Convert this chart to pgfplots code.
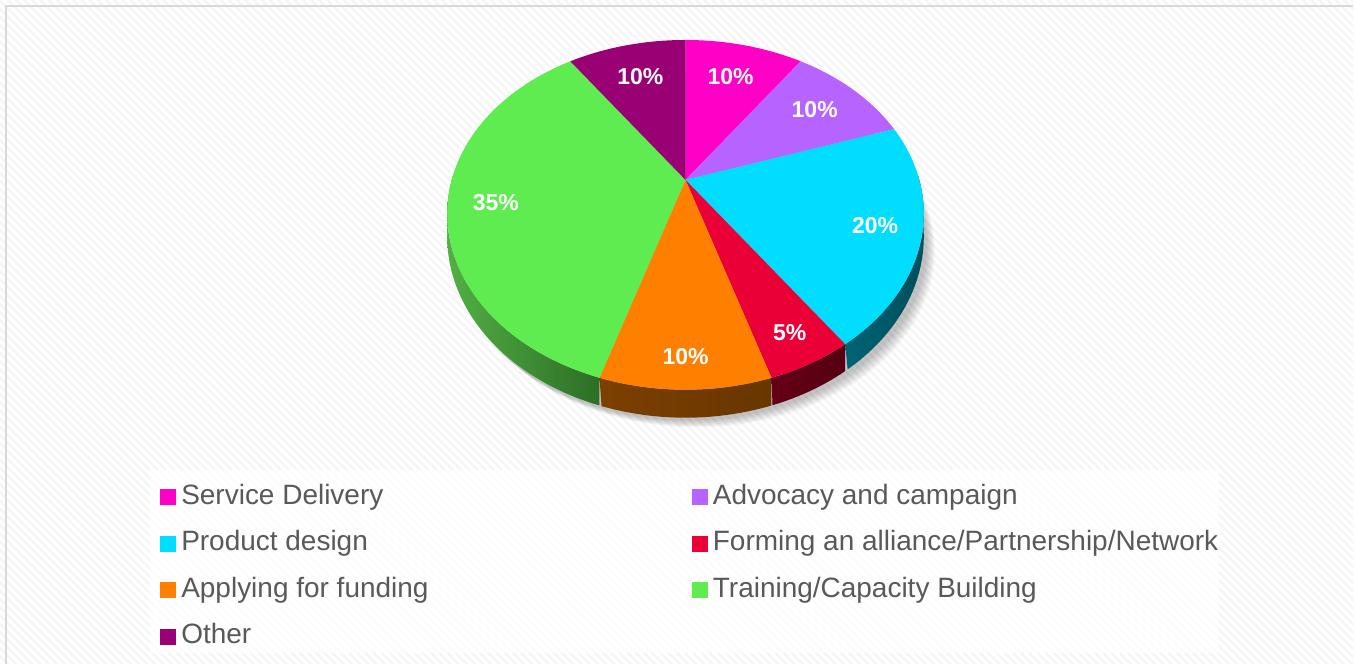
\documentclass[border=0pt]{standalone}
\usepackage{pgfplots}
\pgfplotsset{compat=1.18}
\usepackage{pgfplotstable}
\usepackage{fontspec}
\setmainfont{Liberation Sans}
\usetikzlibrary{patterns.meta}

\definecolor{c0}{HTML}{FF00C6}
\definecolor{c1}{HTML}{B663FF}
\definecolor{c2}{HTML}{00DDFF}
\definecolor{c3}{HTML}{EA0037}
\definecolor{c4}{HTML}{FF8000}
\definecolor{c5}{HTML}{5FEC50}
\definecolor{c6}{HTML}{990073}
% side colours (left / right)
\definecolor{s0a}{HTML}{99007A}\definecolor{s0b}{HTML}{99007A}
\definecolor{s1a}{HTML}{6E3A99}\definecolor{s1b}{HTML}{6E3A99}
\definecolor{s2a}{HTML}{006474}\definecolor{s2b}{HTML}{004E5C}
\definecolor{s3a}{HTML}{650016}\definecolor{s3b}{HTML}{560012}
\definecolor{s4a}{HTML}{7C4000}\definecolor{s4b}{HTML}{683600}
\definecolor{s5a}{HTML}{52B043}\definecolor{s5b}{HTML}{2C6E26}
\definecolor{s6a}{HTML}{5C0046}\definecolor{s6b}{HTML}{5C0046}
\definecolor{legtext}{HTML}{595959}

\pgfplotstableread[col sep=comma]{
label,value
Service Delivery,10
Advocacy and campaign,10
Product design,20
Forming an alliance,5
Applying for funding,10
Training/Capacity Building,35
Other,10
}\piedata
\pgfplotstablecreatecol[create col/expr accum={\pgfmathaccuma + \thisrow{value}}{0}]{cum}\piedata

\pgfkeys{/pgf/declare function={
  PX(\ang,\rad)=686+234*\rad*sin(\ang)*(1-0.2*\rad*cos(\ang));
  PY(\ang,\rad)=180-175*\rad*cos(\ang)+35*(\rad*cos(\ang))^2;
  TH(\tt,\aa,\bb)=(\tt<=1.0001) ? (\aa+(\bb-\aa)*min(\tt,1)) : (\bb-(\bb-\aa)*(\tt-1));
  DY(\tt,\ang)=(\tt>1.0001) ? (22-6*cos(\ang)) : 0;
  LR(\ang)=0.79-0.07*cos(\ang);
}}

\begin{document}
\begin{tikzpicture}
\begin{axis}[
  width=677pt, height=332pt, scale only axis,
  xmin=0, xmax=1354, ymin=0, ymax=664, y dir=reverse,
  hide axis, clip=false,
  legend columns=2,
  legend image code/.code={\fill[#1] (0pt,-4pt) rectangle (8pt,4pt);},
  legend style={at={(axis cs:160,484)}, anchor=north west, draw=none, fill=none,
    inner sep=0pt, row sep=10.3pt,
    font=\fontsize{14}{16}\selectfont, text=legtext,
    nodes={inner xsep=2.5pt, inner ysep=0pt, text height=10pt, text depth=3pt},
    /tikz/every even column/.append style={column sep=13pt}},
  legend cell align=left,
]
% background
\fill[white] (axis cs:0,0) rectangle (axis cs:1354,664);
\fill[pattern={Lines[angle=-45,distance=2.9pt,line width=1.1pt]}, pattern color=black!4]
  (axis cs:0,0) rectangle (axis cs:1354,664);
\draw[black!15, line width=1pt] (axis cs:6,664) -- (axis cs:6,6) -- (axis cs:1354,6);
% legend box
\fill[white, opacity=0.75] (axis cs:150,470) rectangle (axis cs:1220,653);

% soft shadow
\pgfplotsinvokeforeach{1,...,7}{
  \addplot[forget plot, draw=none, fill=black, fill opacity=0.035, domain=0:360, samples=90, variable=\t]
    ({PX(\t,1)+2+#1*1.3},{PY(\t,1)+30+#1*1.1});
}

% sides
\pgfplotsinvokeforeach{0,...,6}{
  \pgfplotstablegetelem{#1}{value}\of\piedata \let\val\pgfplotsretval
  \pgfplotstablegetelem{#1}{cum}\of\piedata \let\cum\pgfplotsretval
  \pgfmathsetmacro\thA{3.6*(\cum-\val)}
  \pgfmathsetmacro\thB{3.6*\cum}
  \pgfmathsetmacro\sA{max(\thA,88)}
  \pgfmathsetmacro\sB{min(\thB,272)}
  \ifdim\sA pt<\sB pt
    \addplot[forget plot, draw=none, left color=s#1a, right color=s#1b,
      domain=0:2, samples=161, variable=\t]
      ({PX(TH(\t,\sA,\sB),1)},{PY(TH(\t,\sA,\sB),1)+DY(\t,TH(\t,\sA,\sB))});
  \fi
}

% top faces
\pgfplotsinvokeforeach{0,...,6}{
  \pgfplotstablegetelem{#1}{value}\of\piedata \let\val\pgfplotsretval
  \pgfplotstablegetelem{#1}{cum}\of\piedata \let\cum\pgfplotsretval
  \pgfmathsetmacro\thA{3.6*(\cum-\val)}
  \pgfmathsetmacro\thB{3.6*\cum}
  \addplot[fill=c#1, draw=none, domain=\thA:\thB, samples=60, variable=\t]
    ({PX(\t,1)},{PY(\t,1)}) -- (axis cs:686,180) -- cycle;
}

% percentage labels
\pgfplotsinvokeforeach{0,...,6}{
  \pgfplotstablegetelem{#1}{value}\of\piedata \let\val\pgfplotsretval
  \pgfplotstablegetelem{#1}{cum}\of\piedata \let\cum\pgfplotsretval
  \pgfmathsetmacro\mid{3.6*(\cum-\val/2)}
  \pgfmathsetmacro\lx{PX(\mid,LR(\mid))}
  \pgfmathsetmacro\ly{PY(\mid,LR(\mid))}
  \pgfmathtruncatemacro\pct{\val}
  \edef\tmp{\noexpand\node[text=white, font=\noexpand\bfseries\noexpand\fontsize{11.5}{13}\noexpand\selectfont] at (axis cs:\lx,\ly) {\pct\noexpand\%};}
  \tmp
}

\legend{\makebox[240pt][l]{Service Delivery}, Advocacy and campaign,
  \makebox[240pt][l]{Product design}, Forming an alliance/Partnership/Network,
  \makebox[240pt][l]{Applying for funding}, Training/Capacity Building,
  \makebox[240pt][l]{Other}}
\end{axis}
\end{tikzpicture}
\end{document}
